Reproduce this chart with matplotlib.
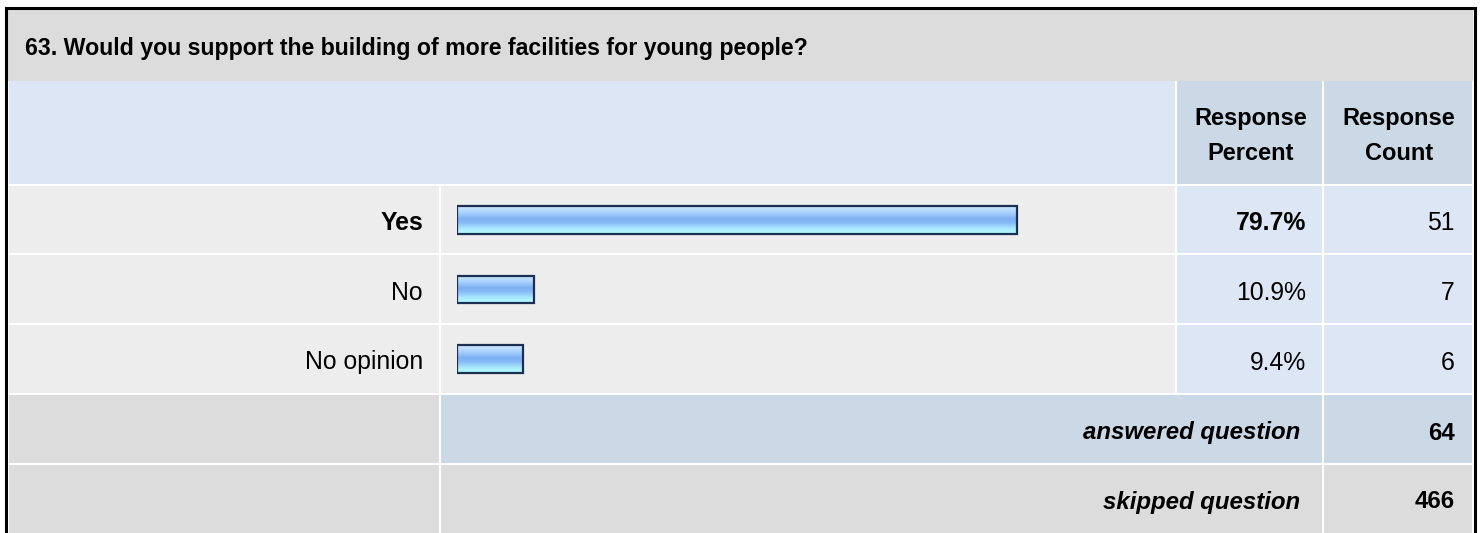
import numpy as np
import matplotlib.pyplot as plt
from matplotlib.patches import Rectangle
from matplotlib.colors import LinearSegmentedColormap

plt.rcParams['font.family'] = ['Liberation Sans', 'DejaVu Sans']

title = "63. Would you support the building of more facilities for young people?"
answers = ["Yes", "No", "No opinion"]
percents = [79.7, 10.9, 9.4]
counts = [51, 7, 6]
answered = 64
skipped = 466

W, H = 1480, 533
fig = plt.figure(figsize=(W / 100, H / 100), dpi=100)
ax = fig.add_axes([0, 0, 1, 1])
ax.set_xlim(0, W)
ax.set_ylim(H, 0)
ax.axis('off')

GRAY = '#dcdcdc'
LIGHT = '#ededed'
BLUE1 = '#dce6f4'
BLUE2 = '#cbd8e6'

# column and row edges (pixels)
cx = [8, 440, 1176, 1323, 1473]
ry = [9, 80, 185, 254, 324, 394, 464, 540]


def cell(x0, x1, y0, y1, color):
    ax.add_patch(Rectangle((x0 + 1, y0 + 1), x1 - x0 - 2, y1 - y0 - 2,
                           facecolor=color, edgecolor='none'))


ax.add_patch(Rectangle((0, 0), W, H, facecolor='white', edgecolor='none'))
ax.add_patch(Rectangle((cx[0], ry[0]), cx[4] - cx[0], ry[1] - ry[0] + 1,
                       facecolor=GRAY, edgecolor='none'))
cell(cx[0], cx[2], ry[1], ry[2], BLUE1)
cell(cx[2], cx[3], ry[1], ry[2], BLUE2)
cell(cx[3], cx[4], ry[1], ry[2], BLUE2)
for i in range(3):
    cell(cx[0], cx[1], ry[2 + i], ry[3 + i], LIGHT)
    cell(cx[1], cx[2], ry[2 + i], ry[3 + i], LIGHT)
    cell(cx[2], cx[3], ry[2 + i], ry[3 + i], BLUE1)
    cell(cx[3], cx[4], ry[2 + i], ry[3 + i], BLUE1)
cell(cx[0], cx[1], ry[5], ry[6], GRAY)
cell(cx[1], cx[3], ry[5], ry[6], BLUE2)
cell(cx[3], cx[4], ry[5], ry[6], BLUE2)
cell(cx[0], cx[1], ry[6], ry[7], GRAY)
cell(cx[1], cx[3], ry[6], ry[7], GRAY)
cell(cx[3], cx[4], ry[6], ry[7], GRAY)

# outer border
ax.plot([5.5, 5.5, 1475, 1475], [H + 5, 7.5, 7.5, H + 5], color='black',
        lw=2.2, solid_joinstyle='miter')

ax.text(25, 48, title, fontsize=16.7, fontweight='bold', va='center', ha='left')
for xc, words in [((cx[2] + cx[3]) / 2, ("Response", "Percent")),
                  ((cx[3] + cx[4]) / 2, ("Response", "Count"))]:
    ax.text(xc + 1, 118, words[0], fontsize=17, fontweight='bold', ha='center', va='center')
    ax.text(xc + 1, 154, words[1], fontsize=17, fontweight='bold', ha='center', va='center')

fs = 17.8
for i, (lab, p, c) in enumerate(zip(answers, percents, counts)):
    yc = (ry[2 + i] + ry[3 + i]) / 2 + 3.5
    wt = 'bold' if i == 0 else 'normal'
    ax.text(423, yc, lab, fontsize=fs, fontweight=wt, ha='right', va='center')
    ax.text(1306, yc, f"{p:.1f}%", fontsize=fs, fontweight=wt, ha='right', va='center')
    ax.text(1455, yc, str(c), fontsize=fs, ha='right', va='center')

ax.text(1300, 433, "answered question", fontsize=17.3, fontweight='bold',
        fontstyle='italic', ha='right', va='center')
ax.text(1455, 433, str(answered), fontsize=17.3, fontweight='bold', ha='right', va='center')
ax.text(1300, 502, "skipped question", fontsize=17.3, fontweight='bold',
        fontstyle='italic', ha='right', va='center')
ax.text(1455, 502, str(skipped), fontsize=17.3, fontweight='bold', ha='right', va='center')

# bar chart area: 100% spans 702 px
bx = fig.add_axes([457.5 / W, 1 - ry[5] / H, 702 / W, (ry[5] - ry[2]) / H])
bx.axis('off')
bx.patch.set_alpha(0)

cmap = LinearSegmentedColormap.from_list('bar', [
    (0.0, '#d0e8ff'), (0.25, '#a6d0fe'), (0.45, '#7eb0f2'),
    (0.58, '#84b8f6'), (0.8, '#a8e6ff'), (1.0, '#b8ffff')])
grad = np.linspace(0, 1, 64).reshape(-1, 1)
bars = bx.barh(range(len(answers)), percents, height=0.40, facecolor='none',
               edgecolor='#1b2f50', linewidth=1.6, zorder=3)
for b in bars:
    x0, y0 = b.get_x(), b.get_y()
    img = bx.imshow(grad, cmap=cmap, aspect='auto', zorder=2,
                    extent=(x0, x0 + b.get_width(), y0 + b.get_height(), y0))
    img.set_clip_path(b)
bx.set_xlim(0, 100)
bx.set_ylim(2.5, -0.5)

fig.savefig('out.png', dpi=100)
